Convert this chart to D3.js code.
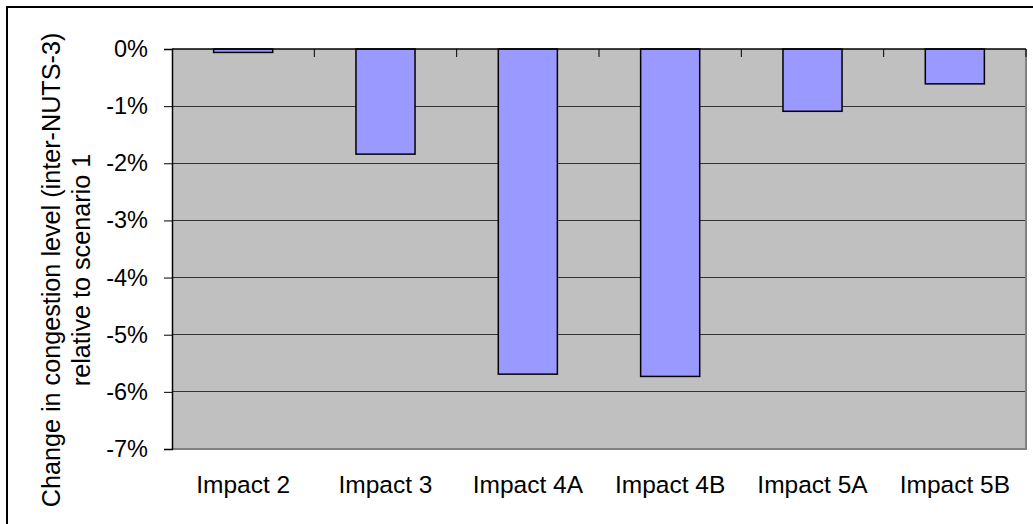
<!DOCTYPE html>
<html>
<head>
<meta charset="utf-8">
<script src="https://cdn.jsdelivr.net/npm/d3@7"></script>
<style>
  html, body { margin: 0; padding: 0; background: #fff; }
  svg { display: block; font-family: "Liberation Sans", Arial, sans-serif; }
</style>
</head>
<body>
<svg id="chart" width="1033" height="524"></svg>
<script>
const categories = ["Impact 2", "Impact 3", "Impact 4A", "Impact 4B", "Impact 5A", "Impact 5B"];
const values = [-0.06, -1.84, -5.69, -5.73, -1.09, -0.61];
const yTicks = [0, -1, -2, -3, -4, -5, -6, -7];
const yTickLabels = ["0%", "-1%", "-2%", "-3%", "-4%", "-5%", "-6%", "-7%"];
const yTitleLines = ["Change in congestion level (inter-NUTS-3)", "relative to scenario 1"];

const svg = d3.select("#chart");
const plot = { left: 172, top: 49, right: 1026, bottom: 449 };

// outer chart border
svg.append("rect")
  .attr("x", 7).attr("y", 7).attr("width", 1040).attr("height", 540)
  .attr("fill", "none").attr("stroke", "#000").attr("stroke-width", 2);

const x = d3.scaleBand().domain(categories).range([plot.left, plot.right]).paddingInner(0).paddingOuter(0);
const y = d3.scaleLinear().domain([-7, 0]).range([plot.bottom, plot.top]);

// plot background
svg.append("rect")
  .attr("x", plot.left).attr("y", plot.top)
  .attr("width", plot.right - plot.left).attr("height", plot.bottom - plot.top)
  .attr("fill", "#C0C0C0");

// gridlines
svg.append("g").selectAll("line").data(yTicks.filter(d => d !== 0 && d !== -7)).join("line")
  .attr("x1", plot.left).attr("x2", plot.right)
  .attr("y1", d => y(d)).attr("y2", d => y(d))
  .attr("stroke", "#333").attr("stroke-width", 1).attr("shape-rendering", "crispEdges");

// plot border right/bottom gray
svg.append("path")
  .attr("d", `M${plot.right},${plot.top}V${plot.bottom}H${plot.left}`)
  .attr("fill", "none").attr("stroke", "#808080").attr("stroke-width", 2);

// bars
const barFrac = 0.415;
svg.append("g").selectAll("rect").data(categories).join("rect")
  .attr("x", (d) => x(d) + x.bandwidth() * (1 - barFrac) / 2)
  .attr("width", x.bandwidth() * barFrac)
  .attr("y", y(0))
  .attr("height", (d, i) => y(values[i]) - y(0))
  .attr("fill", "#9999FF").attr("stroke", "#000").attr("stroke-width", 1.5);

// y axis
const yAxis = d3.axisLeft(y).tickValues(yTicks).tickSize(8).tickPadding(16)
  .tickFormat((d, i) => yTickLabels[i]);
const gy = svg.append("g").attr("transform", `translate(${plot.left},0)`).call(yAxis);
gy.select(".domain").attr("stroke", "#000").attr("stroke-width", 1.5);
gy.selectAll(".tick line").attr("stroke", "#000").attr("stroke-width", 1);
gy.selectAll(".tick text").attr("font-size", 23.5).attr("fill", "#000")
  .attr("font-family", "Liberation Sans, Arial, sans-serif");

// x axis at zero line, ticks at category boundaries
const xAxisLine = svg.append("g");
xAxisLine.append("line")
  .attr("x1", plot.left).attr("x2", plot.right)
  .attr("y1", y(0)).attr("y2", y(0))
  .attr("stroke", "#000").attr("stroke-width", 1.5);
xAxisLine.selectAll("line.tk").data(categories.slice(1).concat(["__end"])).join("line")
  .attr("class", "tk")
  .attr("x1", (d, i) => i < categories.length - 1 ? x(d) : plot.right)
  .attr("x2", (d, i) => i < categories.length - 1 ? x(d) : plot.right)
  .attr("y1", y(0)).attr("y2", y(0) + 8)
  .attr("stroke", "#000").attr("stroke-width", 1);

// category labels
svg.append("g").selectAll("text").data(categories).join("text")
  .attr("x", d => x(d) + x.bandwidth() / 2)
  .attr("y", 493)
  .attr("text-anchor", "middle")
  .attr("font-size", 24.5)
  .attr("fill", "#000")
  .text(d => d);

// y title
const ty = svg.append("text")
  .attr("transform", "translate(60,270) rotate(-90)")
  .attr("text-anchor", "middle")
  .attr("font-size", 25.2)
  .attr("fill", "#000");
ty.selectAll("tspan").data(yTitleLines).join("tspan")
  .attr("x", 0).attr("dy", (d, i) => i === 0 ? 0 : 30)
  .text(d => d);
</script>
</body>
</html>
